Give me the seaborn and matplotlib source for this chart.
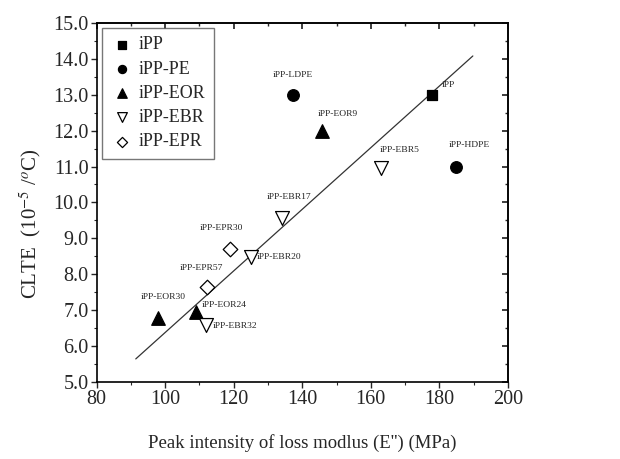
import numpy as np
import pandas as pd
import matplotlib
matplotlib.use('Agg')
import matplotlib.pyplot as plt
from matplotlib.ticker import MultipleLocator, FormatStrFormatter
import seaborn as sns

# data
groups = ['iPP', 'iPP-PE', 'iPP-EOR', 'iPP-EBR', 'iPP-EPR']
names = ['iPP', 'iPP-LDPE', 'iPP-HDPE', 'iPP-EOR9', 'iPP-EOR24', 'iPP-EOR30',
         'iPP-EBR5', 'iPP-EBR17', 'iPP-EBR20', 'iPP-EBR32', 'iPP-EPR30', 'iPP-EPR57']
sample_group = ['iPP', 'iPP-PE', 'iPP-PE', 'iPP-EOR', 'iPP-EOR', 'iPP-EOR',
                'iPP-EBR', 'iPP-EBR', 'iPP-EBR', 'iPP-EBR', 'iPP-EPR', 'iPP-EPR']
modulus = [178.0, 137.3, 184.9, 145.9, 109.1, 97.9, 163.1, 134.2, 124.9, 112.0, 118.8, 112.1]
clte = [13.0, 13.0, 11.0, 12.0, 6.95, 6.78, 10.95, 9.56, 8.47, 6.58, 8.69, 7.64]
fit_x = [91.4, 189.8]
fit_y = [5.64, 14.08]

df = pd.DataFrame({'group': sample_group, 'name': names, 'x': modulus, 'y': clte})

sns.set_theme(style='ticks')
plt.rcParams['font.family'] = ['Liberation Serif', 'DejaVu Serif']
plt.rcParams['mathtext.fontset'] = 'stix'

fig = plt.figure(figsize=(6.2, 4.59), dpi=100)
ax = fig.add_axes([0.156, 0.168, 0.663, 0.782])

ax.plot(fit_x, fit_y, color='#333333', lw=0.9, zorder=1)

marker_style = {
    'iPP': dict(marker='s', s=60, color='black', edgecolor='black'),
    'iPP-PE': dict(marker='o', s=70, color='black', edgecolor='black'),
    'iPP-EOR': dict(marker='^', s=95, color='black', edgecolor='black'),
    'iPP-EBR': dict(marker='v', s=100, color='white', edgecolor='black'),
    'iPP-EPR': dict(marker='D', s=55, color='white', edgecolor='black'),
}
for g in groups:
    sub = df[df['group'] == g]
    sns.scatterplot(data=sub, x='x', y='y', ax=ax, label=g, linewidth=0.9,
                    zorder=3, **marker_style[g])

# label offsets in pixels: (dx, dy, ha)
offsets = {
    'iPP': (9, 10, 'left'), 'iPP-LDPE': (0, 20, 'center'), 'iPP-HDPE': (13, 22, 'center'),
    'iPP-EOR9': (15, 17, 'center'), 'iPP-EOR24': (5, 7, 'left'), 'iPP-EOR30': (5, 21, 'center'),
    'iPP-EBR5': (18, 18, 'center'), 'iPP-EBR17': (7, 21, 'center'), 'iPP-EBR20': (6, 0, 'left'),
    'iPP-EBR32': (6, -1, 'left'), 'iPP-EPR30': (-8, 21, 'center'), 'iPP-EPR57': (-5, 19, 'center'),
}
for _, r in df.iterrows():
    dx, dy, ha = offsets[r['name']]
    ax.annotate(r['name'], (r['x'], r['y']), xytext=(dx, dy), textcoords='offset pixels',
                ha=ha, va='center', fontsize=6.8, color='#222222')

ax.set_xlim(80, 200)
ax.set_ylim(5, 15)
ax.xaxis.set_major_locator(MultipleLocator(20))
ax.xaxis.set_minor_locator(MultipleLocator(10))
ax.yaxis.set_major_locator(MultipleLocator(1))
ax.yaxis.set_minor_locator(MultipleLocator(0.5))
ax.yaxis.set_major_formatter(FormatStrFormatter('%.1f'))
ax.tick_params(which='major', direction='out', length=4, width=1, labelsize=14.5, pad=2)
ax.tick_params(which='minor', direction='out', length=2.5, width=0.8)

for sp in ax.spines.values():
    sp.set_visible(True)
    sp.set_linewidth(1.2)
    sp.set_color('black')

top = ax.secondary_xaxis('top')
top.xaxis.set_major_locator(MultipleLocator(20))
top.xaxis.set_minor_locator(MultipleLocator(10))
top.tick_params(which='both', direction='in', labeltop=False)
top.tick_params(which='major', length=4)
top.tick_params(which='minor', length=2.5)
right = ax.secondary_yaxis('right')
right.yaxis.set_major_locator(MultipleLocator(1))
right.yaxis.set_minor_locator(MultipleLocator(0.5))
right.tick_params(which='both', direction='in', labelright=False)
right.tick_params(which='major', length=4)
right.tick_params(which='minor', length=2.5)

ax.set_xlabel("Peak intensity of loss modlus (E'') (MPa)", fontsize=13.5, labelpad=18)
ax.set_ylabel('CLTE  (10$^{-5}$ /$^{o}$C)', fontsize=15)
ax.yaxis.set_label_coords(-0.13, 0.44)

leg = ax.legend(loc='upper left', fontsize=13, frameon=True, fancybox=False,
                edgecolor='#555555', borderaxespad=0.3, handletextpad=0.3,
                labelspacing=0.4, borderpad=0.45, markerscale=0.7, handlelength=1.3)
leg.get_frame().set_linewidth(1.0)

fig.savefig('out.png', dpi=100)
